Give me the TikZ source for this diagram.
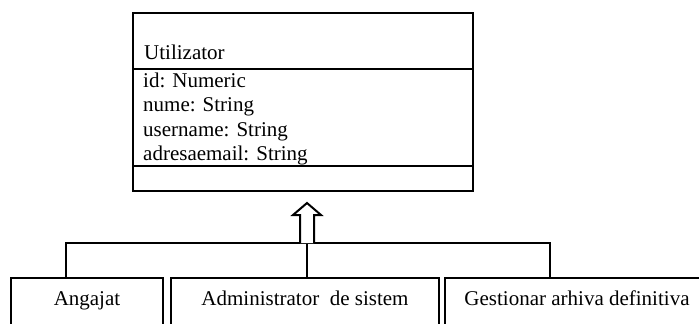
\documentclass[tikz,border=0pt]{standalone}
\usepackage{fontspec}
\setmainfont{Liberation Serif}
\begin{document}
\begin{tikzpicture}[x=1pt,y=-1pt,
  txt/.style={inner sep=0pt,anchor=base west,font=\fontsize{21}{24.5}\selectfont},
  subbox/.style={draw,line width=2pt,anchor=north west,minimum height=90pt,inner sep=0pt},
  classbox/.style={draw,line width=2.2pt,anchor=north west,minimum width=340pt,minimum height=178pt,inner sep=0pt},
  link/.style={line width=2pt},
  inherit/.style={line width=2pt,fill=white,line join=miter}]
\useasboundingbox (0,0) rectangle (699,324);
\clip (0,0) rectangle (699,324);

% class Utilizator
\node[classbox] (util) at (132,12) {};
\coordinate (sepA) at (132,69);
\coordinate (sepB) at (132,166);
\draw[line width=2pt] (sepA) -- (sepA -| util.east);
\draw[line width=2pt] (sepB) -- (sepB -| util.east);
\node[txt] (cname) at (144,59) {Utilizator};
\node[txt] (a1) at (143,87) {id: Numeric};
\node[txt] (a2) at (143,111.5) {nume: String};
\node[txt] (a3) at (143,136) {username: String};
\node[txt] (a4) at (143,160) {adresaemail: String};

% subclasses
\node[subbox,minimum width=152pt] (b1) at (10,277) {};
\node[subbox,minimum width=268pt] (b2) at (170,277) {};
\node[subbox,minimum width=266pt] (b3) at (444,277) {};
\node[txt,anchor=base] (t1) at (b1.north |- 0,305) {Angajat};
\node[txt,anchor=base] (t2) at (b2.north |- 0,305) {Administrator\ \ de sistem};
\node[txt,anchor=base] (t3) at (577,305) {Gestionar arhiva definitiva};

% generalization connectors
\coordinate (jl) at (66,243);
\coordinate (jm) at (307,243);
\coordinate (jr) at (550,243);
\draw[link] (b1.north -| jl) -- (jl) -- (jr) -- (b3.north -| jr);
\draw[link] (b2.north -| jm) -- (jm);

% hollow inheritance arrow pointing to the class
\draw[inherit] (jm) ++(-7,0) -- ++(0,-28) -- ++(-7,0) -- (307,203) -- (321,215) -- ++(-7,0) -- (314,243);
\end{tikzpicture}
\end{document}
